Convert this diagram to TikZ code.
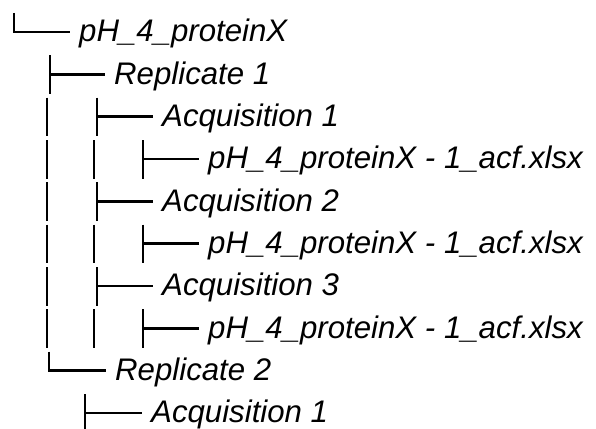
\documentclass[tikz,border=0pt]{standalone}
\usepackage{fontspec}
\setmainfont{Liberation Sans}
\begin{document}
\begin{tikzpicture}[x=1pt,y=-1pt,
  tree/.style={line width=2.9pt,line cap=butt,black},
  lbl/.style={anchor=base west,inner sep=0pt,font=\fontsize{31.2}{37}\selectfont\itshape}]
\useasboundingbox (0,0) rectangle (596,428);
% glyph-like tree segments: vertical bar of one row, tee and corner
\newcommand\vbar[2]{\draw[tree] (#1,{#2-19}) -- (#1,{#2+19.5});}
\newcommand\tee[3]{\draw[tree] (#1,{#2-19}) -- (#1,{#2+19.5}); \draw[tree] (#1,#2) -- (#3,#2);}
\newcommand\corner[3]{\draw[tree] (#1,{#2-19}) -- (#1,#2) -- (#3,#2);}
\def\bl{9.8}
% row 1
\corner{14}{32}{70}
\node[lbl] (root) at (79,{32+\bl}) {pH\_4\_proteinX};
% row 2
\tee{50}{74.3}{105}
\node[lbl] (rep1) at (114,{74.3+\bl}) {Replicate 1};
% row 3
\vbar{47}{116.7}
\tee{97}{116.7}{153}
\node[lbl] (acq11) at (162,{116.7+\bl}) {Acquisition 1};
% row 4
\vbar{47}{159}\vbar{94}{159}
\tee{143}{159}{199}
\node[lbl] (f1) at (208,{159+\bl}) {pH\_4\_proteinX - 1\_acf.xlsx};
% row 5
\vbar{47}{201.3}
\tee{97}{201.3}{153}
\node[lbl] (acq12) at (162,{201.3+\bl}) {Acquisition 2};
% row 6
\vbar{47}{243.7}\vbar{94}{243.7}
\tee{143}{243.7}{199}
\node[lbl] (f2) at (208,{243.7+\bl}) {pH\_4\_proteinX - 1\_acf.xlsx};
% row 7
\vbar{47}{286}
\tee{97}{286}{153}
\node[lbl] (acq13) at (162,{286+\bl}) {Acquisition 3};
% row 8
\vbar{47}{328.3}\vbar{94}{328.3}
\tee{143}{328.3}{199}
\node[lbl] (f3) at (208,{328.3+\bl}) {pH\_4\_proteinX - 1\_acf.xlsx};
% row 9
\corner{49}{370.7}{106}
\node[lbl] (rep2) at (115,{370.7+\bl}) {Replicate 2};
% row 10
\tee{85}{413}{142}
\node[lbl] (acq21) at (151,{413+\bl}) {Acquisition 1};
\end{tikzpicture}
\end{document}
